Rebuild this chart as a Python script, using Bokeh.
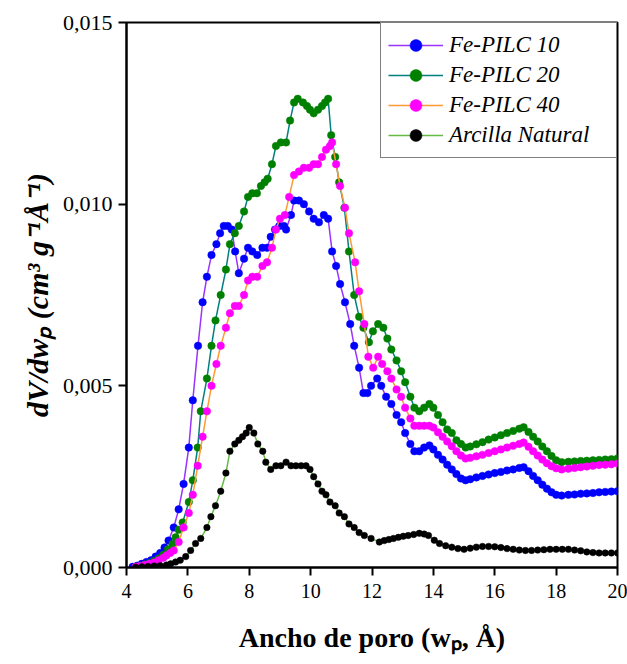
from bokeh.plotting import figure
from bokeh.models import (Range1d, FixedTicker, CustomJSTickFormatter,
                          Legend, LegendItem)
from bokeh.embed import file_html
from bokeh.resources import INLINE

# ---------------- data ----------------
x_pilc10 = [4.2, 4.35, 4.5, 4.65, 4.8, 4.95, 5.1, 5.24, 5.37, 5.54,
            5.7, 5.86, 6.03, 6.16, 6.33, 6.48, 6.62, 6.77, 6.93, 7.05,
            7.17, 7.3, 7.43, 7.54, 7.66, 7.83, 7.96, 8.1, 8.26, 8.43,
            8.58, 8.7, 8.84, 8.98, 9.13, 9.2, 9.36, 9.46, 9.62, 9.78,
            9.95, 10.1, 10.27, 10.43, 10.57, 10.7, 10.83, 10.96, 11.12, 11.29,
            11.42, 11.58, 11.72, 11.85, 11.97, 12.17, 12.3, 12.46, 12.63, 12.8,
            12.95, 13.08, 13.25, 13.38, 13.54, 13.7, 13.87, 14.0, 14.15, 14.3,
            14.45, 14.6, 14.75, 14.9, 15.05, 15.2, 15.4, 15.6, 15.8, 16.0,
            16.2, 16.4, 16.6, 16.8, 16.94, 17.1, 17.25, 17.4, 17.55, 17.7,
            17.85, 18.0, 18.18, 18.4, 18.6, 18.8, 19.0, 19.2, 19.4, 19.6,
            19.8, 20.0]
y_pilc10 = [0.00002, 0.00005, 0.0001, 0.00015, 0.0002, 0.0003, 0.0004, 0.00055, 0.00074, 0.0011,
            0.0016, 0.0023, 0.0033, 0.0046, 0.0061, 0.0073, 0.0080, 0.0086, 0.0089, 0.0092,
            0.0094, 0.0094, 0.0093, 0.0087, 0.0081, 0.0085, 0.0088, 0.0087, 0.0086, 0.0088,
            0.0088, 0.0091, 0.0093, 0.0094, 0.0094, 0.0093, 0.0097, 0.0101, 0.0101, 0.0100,
            0.0098, 0.0096, 0.0095, 0.0097, 0.0096, 0.0087, 0.0083, 0.0078, 0.0073, 0.0067,
            0.0061, 0.0055, 0.0048, 0.0048, 0.0050, 0.0052, 0.0050, 0.0047, 0.0045, 0.0042,
            0.0040, 0.0037, 0.0034, 0.0032, 0.0032, 0.0033, 0.00336, 0.00325, 0.0031, 0.00297,
            0.00283, 0.0027, 0.00257, 0.00245, 0.0024, 0.00243, 0.00248, 0.00252, 0.00256, 0.0026,
            0.00263, 0.00267, 0.0027, 0.00274, 0.00276, 0.00265, 0.00252, 0.0024, 0.00228, 0.00217,
            0.00207, 0.002, 0.00198, 0.002, 0.00201, 0.00203, 0.00204, 0.00205, 0.00207, 0.00208,
            0.00209, 0.0021]

x_pilc20 = [4.3, 4.45, 4.6, 4.75, 4.9, 5.05, 5.2, 5.35, 5.5, 5.6,
            5.7, 5.83, 6.03, 6.16, 6.32, 6.42, 6.62, 6.77, 6.9, 7.07,
            7.24, 7.37, 7.53, 7.66, 7.83, 7.96, 8.1, 8.25, 8.38, 8.5,
            8.6, 8.74, 8.87, 9.03, 9.2, 9.33, 9.46, 9.58, 9.75, 9.88,
            9.98, 10.1, 10.24, 10.37, 10.47, 10.57, 10.67, 10.8, 10.93, 11.1,
            11.25, 11.42, 11.58, 11.72, 11.9, 12.03, 12.2, 12.37, 12.5, 12.63,
            12.8, 12.95, 13.08, 13.25, 13.38, 13.54, 13.7, 13.87, 14.0, 14.15,
            14.3, 14.45, 14.6, 14.75, 14.9, 15.05, 15.2, 15.4, 15.6, 15.8,
            16.0, 16.2, 16.4, 16.6, 16.8, 16.94, 17.1, 17.25, 17.4, 17.55,
            17.7, 17.85, 18.0, 18.18, 18.4, 18.6, 18.8, 19.0, 19.2, 19.4,
            19.6, 19.8, 20.0]
y_pilc20 = [0.00002, 0.00004, 0.00008, 0.00012, 0.00018, 0.00025, 0.00035, 0.0005, 0.00065, 0.00083,
            0.00104, 0.00124, 0.0018, 0.0024, 0.0033, 0.0043, 0.0052, 0.0061, 0.0068, 0.0075,
            0.0082, 0.0089, 0.0092, 0.0094, 0.0098, 0.0102, 0.0103, 0.0103, 0.0105, 0.0106,
            0.0107, 0.0111, 0.0116, 0.0117, 0.0117, 0.0123, 0.0128, 0.0129, 0.0128, 0.0127,
            0.0126, 0.0125, 0.0126, 0.0127, 0.0128, 0.0129, 0.0119, 0.0113, 0.0106, 0.0099,
            0.0087, 0.0075, 0.0069, 0.0066, 0.0062, 0.0065, 0.0067, 0.0066, 0.0063, 0.0060,
            0.0057, 0.0054, 0.0051, 0.0047, 0.0044, 0.0043, 0.0044, 0.0045, 0.0044, 0.0042,
            0.0040, 0.0038, 0.0037, 0.0035, 0.0034, 0.0033, 0.00333, 0.00339, 0.00345, 0.00352,
            0.00358, 0.00364, 0.0037, 0.00376, 0.00382, 0.00386, 0.00373, 0.0036, 0.00347, 0.00333,
            0.0032, 0.00307, 0.00295, 0.0029, 0.00291, 0.00292, 0.00293, 0.00294, 0.00295, 0.00296,
            0.00297, 0.00298, 0.003]

x_pilc40 = [4.3, 4.45, 4.6, 4.75, 4.9, 5.05, 5.2, 5.3, 5.42, 5.54,
            5.7, 5.86, 6.03, 6.16, 6.32, 6.48, 6.62, 6.77, 6.93, 7.07,
            7.24, 7.37, 7.53, 7.66, 7.83, 7.96, 8.1, 8.26, 8.43, 8.58,
            8.74, 8.87, 9.0, 9.16, 9.3, 9.46, 9.62, 9.78, 9.95, 10.1,
            10.24, 10.37, 10.5, 10.63, 10.7, 10.83, 10.96, 11.12, 11.25, 11.45,
            11.58, 11.75, 11.88, 12.04, 12.2, 12.33, 12.5, 12.63, 12.8, 12.95,
            13.08, 13.25, 13.38, 13.54, 13.7, 13.87, 14.0, 14.15, 14.3, 14.45,
            14.6, 14.75, 14.9, 15.05, 15.2, 15.4, 15.6, 15.8, 16.0, 16.2,
            16.4, 16.6, 16.8, 16.94, 17.1, 17.25, 17.4, 17.55, 17.7, 17.85,
            18.0, 18.18, 18.4, 18.6, 18.8, 19.0, 19.2, 19.4, 19.6, 19.8,
            20.0]
y_pilc40 = [0.00002, 0.00004, 0.00007, 0.0001, 0.00014, 0.0002, 0.00027, 0.00033, 0.0004, 0.00047,
            0.0007, 0.0011, 0.0015, 0.0020, 0.0028, 0.0036, 0.0043, 0.0050, 0.0056, 0.0061,
            0.0066, 0.0070, 0.0072, 0.0072, 0.0075, 0.0079, 0.0080, 0.0080, 0.0083, 0.0084,
            0.0088, 0.0093, 0.0096, 0.0097, 0.0102, 0.0108, 0.0109, 0.0110, 0.0110, 0.0111,
            0.0111, 0.0113, 0.0115, 0.0116, 0.0117, 0.0111, 0.0105, 0.0099, 0.0092, 0.0084,
            0.0076, 0.0067, 0.0058, 0.0055, 0.0058, 0.0056, 0.0054, 0.0052, 0.0049, 0.0047,
            0.0044, 0.0041, 0.0039, 0.0039, 0.0039, 0.0039, 0.00385, 0.00372, 0.0036, 0.00347,
            0.00334, 0.0032, 0.00308, 0.003, 0.00302, 0.00306, 0.0031, 0.00315, 0.0032, 0.00325,
            0.0033, 0.00335, 0.0034, 0.00344, 0.00332, 0.0032, 0.00308, 0.00297, 0.00287, 0.00279,
            0.00273, 0.0027, 0.00272, 0.00274, 0.00276, 0.00278, 0.0028, 0.00282, 0.00283, 0.00284,
            0.00286]

x_natural = [4.3, 4.5, 4.7, 4.9, 5.1, 5.3, 5.44, 5.6, 5.75, 5.93,
             6.09, 6.25, 6.42, 6.62, 6.75, 6.9, 7.07, 7.24, 7.37, 7.53,
             7.66, 7.78, 7.9, 8.0, 8.15, 8.28, 8.44, 8.54, 8.7, 8.87,
             9.03, 9.2, 9.36, 9.52, 9.69, 9.85, 9.98, 10.1, 10.24, 10.37,
             10.5, 10.63, 10.8, 10.93, 11.1, 11.25, 11.42, 11.58, 11.75, 11.97,
             12.24, 12.4, 12.55, 12.7, 12.86, 13.02, 13.18, 13.36, 13.54, 13.7,
             13.84, 14.03, 14.2, 14.4, 14.6, 14.8, 15.0, 15.2, 15.4, 15.6,
             15.8, 16.0, 16.2, 16.4, 16.6, 16.8, 17.0, 17.2, 17.4, 17.6,
             17.8, 18.0, 18.2, 18.4, 18.6, 18.8, 19.0, 19.2, 19.4, 19.6,
             19.8, 20.0]
y_natural = [0.00001, 0.00002, 0.00003, 0.00004, 0.00005, 0.00007, 0.0001, 0.00015, 0.0002, 0.0003,
             0.00047, 0.00066, 0.0008, 0.0011, 0.0014, 0.0017, 0.0021, 0.0026, 0.0032, 0.0034,
             0.0035, 0.0036, 0.0037, 0.00385, 0.0037, 0.0034, 0.0032, 0.0029, 0.0027, 0.0028,
             0.0028, 0.0029, 0.0028, 0.0028, 0.0028, 0.0028, 0.0027, 0.0025, 0.0023, 0.0021,
             0.0020, 0.0018, 0.0017, 0.0015, 0.0014, 0.0012, 0.0011, 0.00096, 0.00088, 0.0008,
             0.0007, 0.00074, 0.00077, 0.0008, 0.00083, 0.00086, 0.00088, 0.00091, 0.00094, 0.00092,
             0.00088, 0.00075, 0.00066, 0.0006, 0.00056, 0.00052, 0.0005, 0.00053, 0.00056, 0.00058,
             0.00058, 0.00057, 0.00055, 0.00052, 0.0005, 0.00048, 0.00047, 0.00047, 0.00048, 0.00049,
             0.0005, 0.0005, 0.0005, 0.0005, 0.00048, 0.00046, 0.00043, 0.00041, 0.0004, 0.0004,
             0.0004, 0.0004]

series_names = ["Fe-PILC 10", "Fe-PILC 20", "Fe-PILC 40", "Arcilla Natural"]
x_ticks = [4, 6, 8, 10, 12, 14, 16, 18, 20]
y_ticks = [0.0, 0.005, 0.010, 0.015]
x_title = "Ancho de poro (w\u209a, \u00c5)"
y_title = "dV/dw\u209a (cm\u00b3 g\u207b\u00b9\u00c5\u207b\u00b9)"

# ---------------- figure ----------------
W, H = 627, 664
L, R, T, B = 126, 10, 22, 97

p = figure(width=W, height=H, output_backend="svg", toolbar_location=None,
           x_range=Range1d(4, 20), y_range=Range1d(0.0, 0.015),
           min_border_left=L, min_border_right=R, min_border_top=T,
           min_border_bottom=B)
p.background_fill_color = "white"
p.border_fill_color = "white"
p.outline_line_color = "black"
p.outline_line_width = 2
p.grid.visible = False

SERIF = "Liberation Serif"

p.xaxis.ticker = FixedTicker(ticks=x_ticks, minor_ticks=[])
p.yaxis.ticker = FixedTicker(ticks=y_ticks, minor_ticks=[])
p.yaxis.formatter = CustomJSTickFormatter(code="return tick.toFixed(3).replace('.', ',');")
for ax in (p.xaxis[0], p.yaxis[0]):
    ax.axis_line_width = 2
    ax.axis_line_color = "black"
    ax.major_tick_line_width = 2
    ax.major_tick_line_color = "black"
    ax.major_tick_out = 8
    ax.major_tick_in = 0
    ax.minor_tick_line_color = None
    ax.major_label_text_font = SERIF
    ax.major_label_text_color = "black"
    ax.major_label_text_font_style = "normal"
    ax.axis_label_text_font = SERIF
    ax.axis_label_text_color = "black"
p.xaxis.major_label_text_font_size = "20px"
p.yaxis.major_label_text_font_size = "22px"
p.xaxis.major_label_standoff = 8
p.yaxis.major_label_standoff = 6

p.xaxis.axis_label = x_title
p.xaxis.axis_label_text_font_size = "28px"
p.xaxis.axis_label_text_font_style = "bold"
p.xaxis.axis_label_standoff = 21

p.yaxis.axis_label = y_title
p.yaxis.axis_label_text_font_size = "30px"
p.yaxis.axis_label_text_font_style = "bold italic"
p.yaxis.axis_label_standoff = 6

line_colors = ["#9933FF", "#008080", "#FF9933", "#66BB44"]
mark_colors = ["#0000FF", "#008000", "#FF00FF", "#000000"]
mark_sizes = [7.5, 7.5, 7.5, 6.5]
xs = [x_pilc10, x_pilc20, x_pilc40, x_natural]
ys = [y_pilc10, y_pilc20, y_pilc40, y_natural]

items = []
for name, xv, yv, lc, mc, ms in zip(series_names, xs, ys, line_colors, mark_colors, mark_sizes):
    lr = p.line(xv, yv, line_color=lc, line_width=1.5)
    sr = p.scatter(xv, yv, marker="circle", size=ms, fill_color=mc, line_color=mc,
                   line_width=0.5)
    items.append(LegendItem(label=name, renderers=[lr, sr]))

legend = Legend(items=items, location="top_right", margin=0, padding=7, spacing=0,
                glyph_width=55, glyph_height=30, label_standoff=6, label_height=30,
                label_width=160,
                label_text_font=SERIF, label_text_font_style="italic",
                label_text_font_size="23px", label_text_color="black",
                border_line_color="black", border_line_width=1.5,
                background_fill_color="white", background_fill_alpha=1.0)
p.add_layout(legend)

open("out.html", "w").write(file_html(p, INLINE))
